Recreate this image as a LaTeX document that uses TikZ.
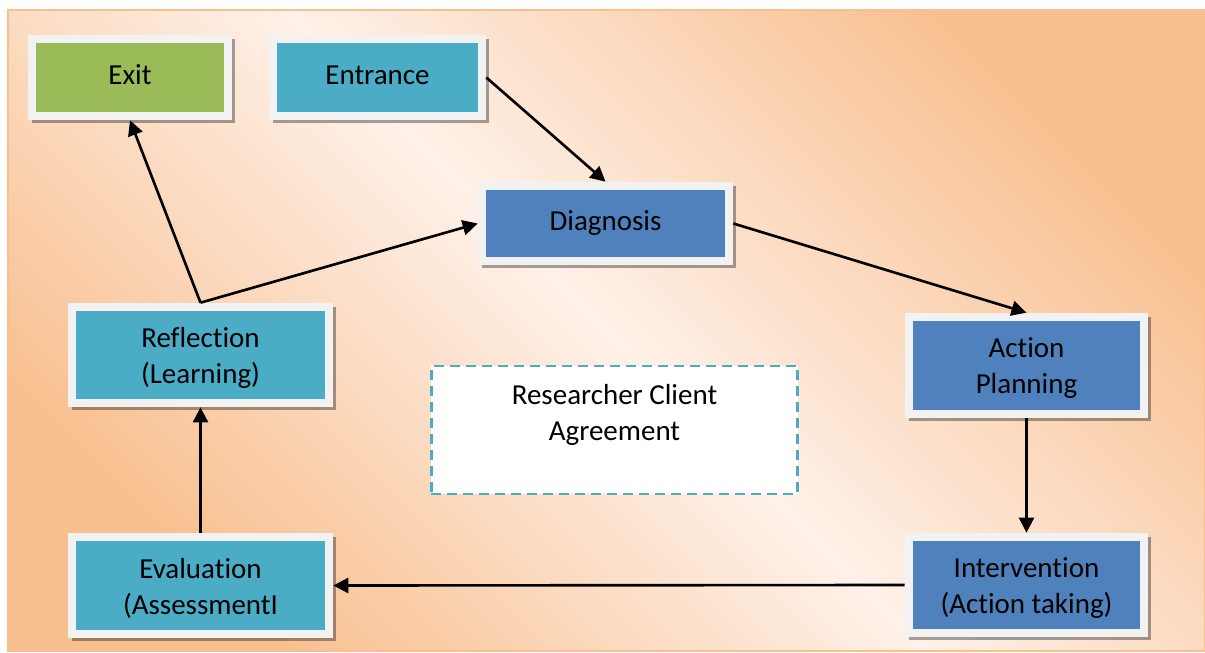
\documentclass[tikz,border=0pt]{standalone}
\usepackage{fontspec}
\setmainfont{Carlito}[Ligatures=NoCommon]
\usetikzlibrary{arrows.meta,shadows}
\definecolor{bgorange}{RGB}{248,192,144}
\definecolor{bglight}{RGB}{254,241,232}
\definecolor{framegray}{RGB}{242,242,242}
\definecolor{exitgreen}{RGB}{155,187,89}
\definecolor{stepteal}{RGB}{75,172,198}
\definecolor{stepblue}{RGB}{79,129,189}
\tikzset{
  stage/.style={fill=framegray, inner sep=0pt, align=center,
    font=\fontsize{16.5}{20.5}\selectfont,
    drop shadow={shadow xshift=0.07cm, shadow yshift=-0.07cm, fill=black, opacity=0.35},
    path picture={\fill[#1] ([shift={(0.15cm,0.15cm)}]path picture bounding box.south west)
      rectangle ([shift={(-0.15cm,-0.15cm)}]path picture bounding box.north east);}},
  oneline/.style={text depth=0.3em},
  agreebox/.style={draw=stepteal, fill=white, line width=1.4pt,
    dash pattern=on 0.2cm off 0.12cm, align=center, inner sep=0pt,
    font=\fontsize{16.5}{20.5}\selectfont},
  flow/.style={line width=1.5pt, -{Triangle[length=0.3cm,width=0.3cm]}}
}
\begin{document}
\begin{tikzpicture}[x=0.02cm, y=-0.02cm]
    \useasboundingbox (0,0) rectangle (1205,653);
    % background
    \shadedraw[top color=bgorange, bottom color=bgorange, middle color=bglight,
        shading angle=-45, draw=bgorange, line width=0.6pt] (8,10) rectangle (1205,651);

    \node[stage=exitgreen, oneline, minimum width=4.08cm, minimum height=1.70cm] (exit) at (130,77.5) {Exit};
    \node[stage=stepteal, oneline, minimum width=4.34cm, minimum height=1.70cm] (entrance) at (377.5,77.5) {Entrance};
    \node[stage=stepblue, oneline, minimum width=5.10cm, minimum height=1.66cm] (diag) at (605.5,223.5) {Diagnosis};
    \node[stage=stepblue, minimum width=4.86cm, minimum height=2.10cm] (plan) at (1026.5,365.5) {\strut Action\\Planning};
    \node[stage=stepblue, minimum width=4.86cm, minimum height=2.08cm] (interv) at (1026.5,585) {\strut Intervention\\(Action taking)};
    \node[stage=stepteal, minimum width=5.30cm, minimum height=2.10cm] (eval) at (200.5,585.5) {\strut Evaluation\\(AssessmentI};
    \node[stage=stepteal, minimum width=5.30cm, minimum height=2.08cm] (reflect) at (200.5,355) {\strut Reflection\\(Learning)};
    \node[agreebox, minimum width=7.33cm, minimum height=2.55cm, text depth=0.7cm] (agree) at (614.5,430) {Researcher Client\\Agreement};

    \draw[flow] (entrance.east) -- (diag.north);
    \draw[flow] (diag.east) -- (plan.north);
    \draw[flow] (plan.south) -- (interv.north);
    \draw[flow] (interv.west) -- (eval.east);
    \draw[flow] (eval.north) -- (reflect.south);
    \draw[flow] (reflect.north) -- (diag.west);
    \draw[flow] (reflect.north) -- (exit.south);
\end{tikzpicture}
\end{document}
